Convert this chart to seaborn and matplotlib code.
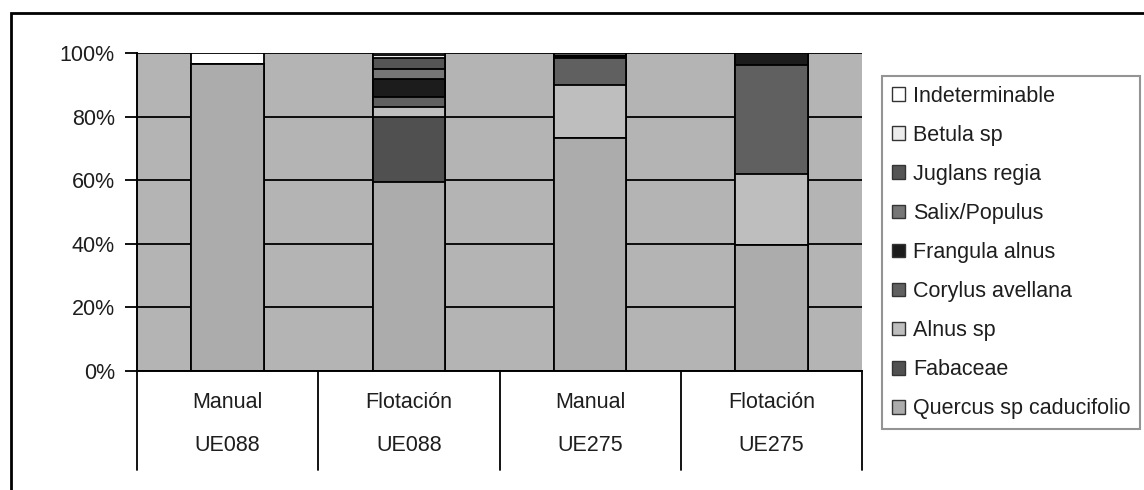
import numpy as np
import pandas as pd
import matplotlib
matplotlib.use("Agg")
import matplotlib.pyplot as plt
import seaborn as sns
from matplotlib.patches import Patch, Rectangle
from matplotlib.transforms import blended_transform_factory

# Samples: recovery method and stratigraphic unit
metodo = ["Manual", "Flotación", "Manual", "Flotación"]
unidad = ["UE088", "UE088", "UE275", "UE275"]

# Taxa in stacking order (bottom to top)
taxones = [
    "Quercus sp caducifolio",
    "Fabaceae",
    "Alnus sp",
    "Corylus avellana",
    "Frangula alnus",
    "Salix/Populus",
    "Juglans regia",
    "Betula sp",
    "Indeterminable",
]

# Percentage of charcoal fragments per taxon in each sample
quercus = [96.5, 59.5, 73.3, 39.5]
fabaceae = [0.0, 20.5, 0.0, 0.0]
alnus = [0.0, 3.1, 16.5, 22.5]
corylus = [0.0, 3.2, 8.6, 34.3]
frangula = [0.0, 5.6, 0.6, 3.7]
salix = [0.0, 3.2, 0.0, 0.0]
juglans = [0.0, 3.3, 1.0, 0.0]
betula = [0.0, 1.1, 0.0, 0.0]
indeterminable = [3.5, 0.5, 0.0, 0.0]

valores = [quercus, fabaceae, alnus, corylus, frangula, salix, juglans,
           betula, indeterminable]

colores = {
    "Quercus sp caducifolio": "#acacac",
    "Fabaceae": "#505050",
    "Alnus sp": "#bebebe",
    "Corylus avellana": "#606060",
    "Frangula alnus": "#1c1c1c",
    "Salix/Populus": "#767676",
    "Juglans regia": "#555555",
    "Betula sp": "#ececec",
    "Indeterminable": "#ffffff",
}

ytick_vals = [0, 20, 40, 60, 80, 100]

sns.set_theme(style="white")
plt.rcParams["font.family"] = ["Liberation Sans", "DejaVu Sans"]
FS = 15.5
TXT = "#1e1e1e"

fig = plt.figure(figsize=(11.44, 4.9), dpi=100)
ax = fig.add_axes([137 / 1144, 1 - 371 / 490, 725 / 1144, 318 / 490])
ax.set_facecolor("#b4b4b4")

muestras = [f"{m} {u}" for m, u in zip(metodo, unidad)]
df = pd.DataFrame({t: v for t, v in zip(taxones, valores)}, index=muestras)
acumulado = df.cumsum(axis=1)

# Stacked bars: draw cumulative totals from the top layer downward
for taxon in reversed(taxones):
    sns.barplot(x=muestras, y=acumulado[taxon].values, color=colores[taxon],
                saturation=1, edgecolor="black", linewidth=1.3, width=0.4,
                errorbar=None, ax=ax)

ax.set_xlim(-0.5, len(muestras) - 0.5)
ax.set_ylim(0, 100)
ax.set_yticks(ytick_vals)
ax.set_yticklabels([f"{v}%" for v in ytick_vals])
ax.set_xticks([])
ax.set_xlabel("")
ax.set_ylabel("")
ax.grid(axis="y", color="black", linewidth=1.3)
ax.grid(axis="x", visible=False)
ax.set_axisbelow(True)
ax.tick_params(axis="y", direction="out", length=9, width=1.3,
               color="black", labelsize=FS, labelcolor=TXT, pad=7, left=True)
for s in ["top", "right"]:
    ax.spines[s].set_visible(False)
for s in ["left", "bottom"]:
    ax.spines[s].set_color("black")
    ax.spines[s].set_linewidth(1.4)

# Two-level category axis
trans = blended_transform_factory(ax.transData, ax.transAxes)
for xpos in np.arange(-0.5, len(muestras), 1.0):
    ax.plot([xpos, xpos], [0, -0.311], color="black", lw=1.3,
            transform=trans, clip_on=False)
for i in range(len(muestras)):
    ax.text(i, -0.10, metodo[i], transform=trans, ha="center", va="center",
            fontsize=FS, color=TXT)
    ax.text(i, -0.235, unidad[i], transform=trans, ha="center", va="center",
            fontsize=FS, color=TXT)

# Legend (top entry = top of stack)
handles = [Patch(facecolor=colores[t], edgecolor="#333333", linewidth=1.0)
           for t in reversed(taxones)]
leg = fig.legend(handles, list(reversed(taxones)), loc="upper left",
                 bbox_to_anchor=(882 / 1144, 1 - 76 / 490), frameon=True,
                 fancybox=False, edgecolor="#7a7a7a", fontsize=FS,
                 handlelength=0.6, handleheight=0.6, handletextpad=0.4,
                 labelspacing=0.84, borderpad=0.45, borderaxespad=0)
leg.get_frame().set_linewidth(1.5)
for t in leg.get_texts():
    t.set_color(TXT)

# Outer chart frame
fig.patches.append(Rectangle((11 / 1144, -0.1), 1.2, 1 - 13 / 490 + 0.1,
                             transform=fig.transFigure, fill=False,
                             edgecolor="black", linewidth=2))

fig.savefig("out.png", dpi=100, facecolor="white")
